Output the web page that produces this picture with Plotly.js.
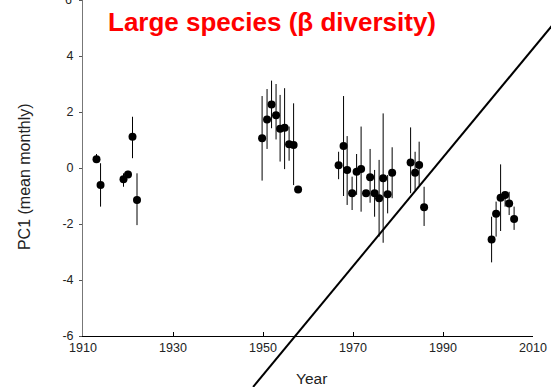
<!DOCTYPE html>
<html>
<head>
<meta charset="utf-8">
<script src="https://cdn.plot.ly/plotly-3.0.1.min.js"></script>
<style>html,body{margin:0;padding:0;background:#fff;}#chart{width:551px;height:387px;}</style>
</head>
<body>
<div id="chart"></div>
<script>
// Year of each sample
var years = [1913.0, 1913.9, 1919.0, 1920.0, 1921.0, 1922.0,
  1949.8, 1950.9, 1951.9, 1952.9, 1953.8, 1954.8, 1955.8, 1956.8, 1957.8,
  1966.8, 1967.9, 1968.7, 1969.8, 1970.8, 1971.8, 1972.9, 1973.8, 1974.8, 1975.8, 1976.7, 1977.7, 1978.7,
  1982.8, 1983.8, 1984.7, 1985.8,
  2000.8, 2001.8, 2002.8, 2003.8, 2004.7, 2005.8];
// PC1 (mean monthly)
var pc1 = [0.31, -0.61, -0.40, -0.23, 1.12, -1.14,
  1.06, 1.73, 2.27, 1.88, 1.40, 1.44, 0.85, 0.82, -0.77,
  0.10, 0.79, -0.07, -0.90, -0.13, -0.04, -0.90, -0.33, -0.90, -1.08, -0.37, -0.94, -0.17,
  0.20, -0.17, 0.11, -1.40,
  -2.55, -1.63, -1.06, -0.96, -1.27, -1.82];
// upper end of each error bar
var upper = [0.50, 0.17, -0.19, -0.10, 1.83, -0.19,
  2.57, 2.82, 3.12, 3.00, 2.61, 2.85, 1.48, 2.31, -0.70,
  0.58, 2.57, 1.14, -0.31, 0.50, 1.48, -0.80, 0.68, -0.07, 0.29, 1.95, -0.25, 0.74,
  1.45, 0.58, 0.94, -0.67,
  -1.74, -1.20, 0.13, -0.85, -0.85, -1.38];
// lower end of each error bar
var lower = [0.18, -1.38, -0.67, -0.35, 0.35, -2.04,
  -0.45, 0.68, 1.42, 1.02, 0.23, -0.04, 0.26, -0.61, -0.85,
  -0.40, -1.00, -1.32, -1.50, -0.96, -1.56, -1.00, -1.24, -1.74, -2.45, -2.67, -1.62, -1.08,
  -0.90, -0.79, -0.61, -2.07,
  -3.37, -2.45, -2.25, -1.38, -1.68, -2.21];
// diagonal reference line (data units)
var lineYears = [1947.8, 2014.2];
var lineVals = [-7.82, 5.08];

var xTickVals = [1910, 1930, 1950, 1970, 1990, 2010];
var yTickVals = [-6, -4, -2, 0, 2, 4, 6];
var xRange = [1910, 2010];
var yRange = [-6, 6];
var yTopLabel = yTickVals[yTickVals.length - 1];

var errPlus = pc1.map(function (v, i) { return upper[i] - v; });
var errMinus = pc1.map(function (v, i) { return v - lower[i]; });

function toPaperX(x) { return (x - xRange[0]) / (xRange[1] - xRange[0]); }
function toPaperY(y) { return (y - yRange[0]) / (yRange[1] - yRange[0]); }

var font = 'Liberation Sans, Arial, sans-serif';

var trace = {
  x: years, y: pc1, type: 'scatter', mode: 'markers',
  marker: {color: '#000', size: 8},
  error_y: {type: 'data', symmetric: false, array: errPlus, arrayminus: errMinus,
    color: '#000', thickness: 1, width: 0},
  cliponaxis: false, hoverinfo: 'x+y'
};

var layout = {
  width: 551, height: 387,
  margin: {l: 83, r: 18, t: 0, b: 51},
  paper_bgcolor: '#fff', plot_bgcolor: '#fff',
  showlegend: false,
  font: {family: font, color: '#222'},
  xaxis: {
    range: xRange, tickvals: xTickVals, ticktext: xTickVals.map(String),
    ticks: 'inside', ticklen: 4, tickcolor: '#000', tickwidth: 1,
    showline: true, linecolor: '#000', linewidth: 1,
    showgrid: false, zeroline: false,
    tickfont: {size: 12.5, color: '#222', family: font}
  },
  yaxis: {
    range: yRange, tickvals: yTickVals,
    ticktext: yTickVals.map(function (v) { return v === yTopLabel ? '' : String(v); }),
    ticks: 'outside', ticklen: 3, tickcolor: '#555', tickwidth: 1,
    ticklabelstandoff: 3,
    showline: true, linecolor: '#777', linewidth: 1,
    showgrid: false, zeroline: false,
    tickfont: {size: 12.5, color: '#222', family: font}
  },
  shapes: [{
    type: 'line', xref: 'paper', yref: 'paper',
    x0: toPaperX(lineYears[0]), y0: toPaperY(lineVals[0]),
    x1: toPaperX(lineYears[1]), y1: toPaperY(lineVals[1]),
    line: {color: '#000', width: 2}
  }],
  annotations: [
    {text: String(yTopLabel), xref: 'paper', yref: 'paper',
     x: -0.02, y: toPaperY(yTopLabel), xanchor: 'right', yanchor: 'middle', showarrow: false,
     font: {size: 12.5, color: '#222', family: font}},
    {text: '<b>Large species (β diversity)</b>', xref: 'paper', yref: 'paper',
     x: 0.421, y: 0.9345, xanchor: 'center', yanchor: 'middle', showarrow: false,
     font: {size: 26, color: '#ff0000', family: font}},
    {text: 'PC1 (mean monthly)', xref: 'paper', yref: 'paper',
     x: -0.1311, y: 0.473, xanchor: 'center', yanchor: 'middle', showarrow: false,
     textangle: -90, font: {size: 16, color: '#222', family: font}},
    {text: 'Year', xref: 'paper', yref: 'paper',
     x: 0.5067, y: -0.125, xanchor: 'center', yanchor: 'middle', showarrow: false,
     font: {size: 15.5, color: '#222', family: font}}
  ]
};

Plotly.newPlot('chart', [trace], layout, {staticPlot: true, displayModeBar: false});
</script>
</body>
</html>
